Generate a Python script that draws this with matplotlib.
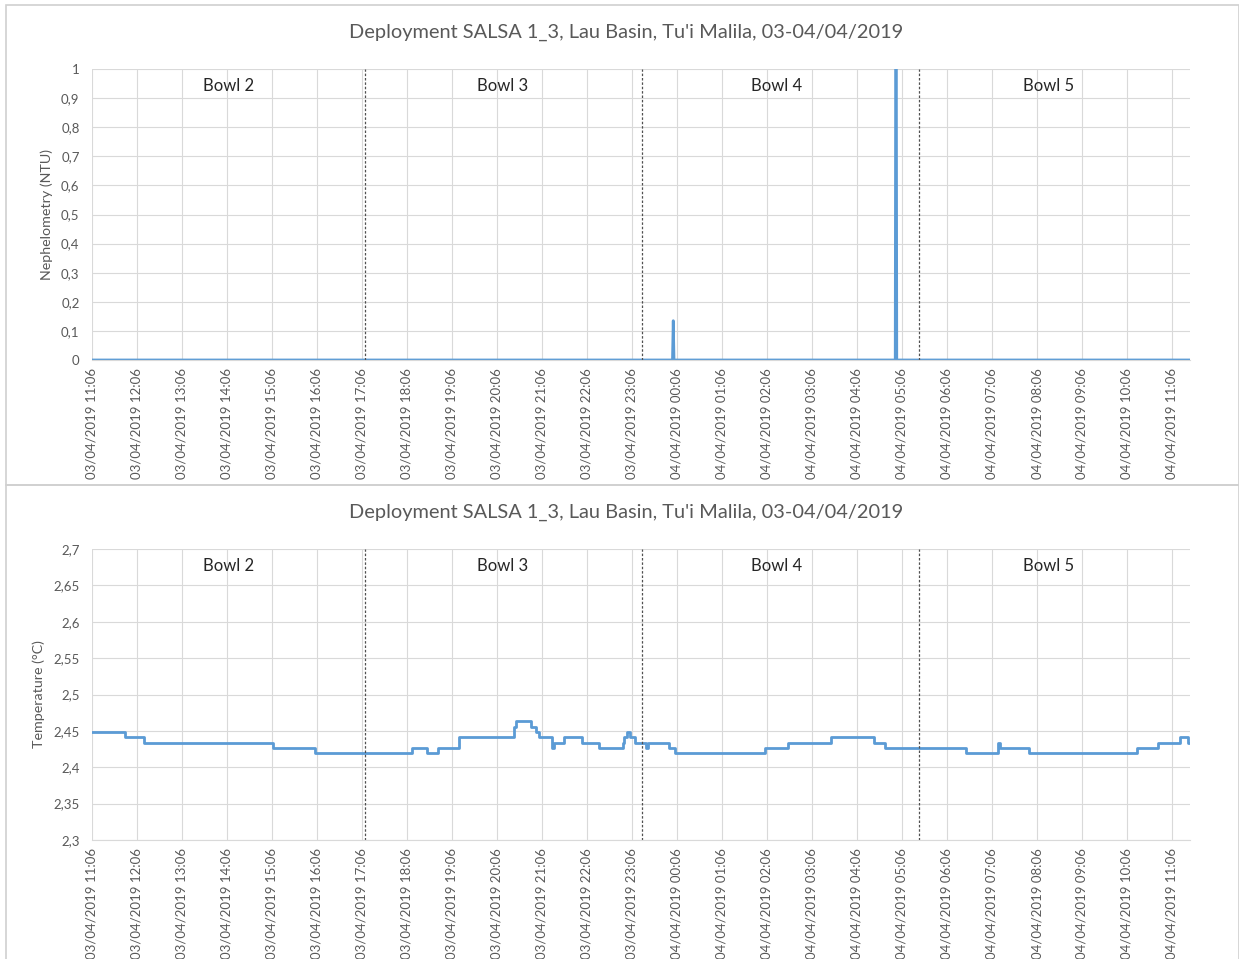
import matplotlib
matplotlib.use("Agg")
import matplotlib.pyplot as plt
import matplotlib.dates as mdates
from matplotlib.patches import Rectangle
import pandas as pd

# ---------------- data ----------------
title = "Deployment SALSA 1_3, Lau Basin, Tu'i Malila, 03-04/04/2019"
bowl_labels = ["Bowl 2", "Bowl 3", "Bowl 4", "Bowl 5"]
bowl_changes = ["2019-04-03 17:10", "2019-04-03 23:20", "2019-04-04 05:29"]
x_start = "2019-04-03 11:06"
x_end = "2019-04-04 11:30"

neph_times = ["2019-04-03 11:06", "2019-04-04 00:00", "2019-04-04 00:01",
              "2019-04-04 00:02", "2019-04-04 04:57", "2019-04-04 04:58",
              "2019-04-04 04:59", "2019-04-04 11:30"]
neph_values = [0, 0, 0.135, 0, 0, 1.8, 0, 0]

temp_times = ["2019-04-03 11:06", "2019-04-03 11:50", "2019-04-03 12:15",
              "2019-04-03 15:07", "2019-04-03 16:03", "2019-04-03 18:12",
              "2019-04-03 18:33", "2019-04-03 18:47", "2019-04-03 19:15",
              "2019-04-03 20:29", "2019-04-03 20:31", "2019-04-03 20:52",
              "2019-04-03 20:58", "2019-04-03 21:02", "2019-04-03 21:19",
              "2019-04-03 21:22", "2019-04-03 21:36", "2019-04-03 21:59",
              "2019-04-03 22:22", "2019-04-03 22:54", "2019-04-03 22:56",
              "2019-04-03 23:00", "2019-04-03 23:04", "2019-04-03 23:10",
              "2019-04-03 23:14", "2019-04-03 23:25", "2019-04-03 23:27",
              "2019-04-03 23:55", "2019-04-04 00:03", "2019-04-04 02:03",
              "2019-04-04 02:34", "2019-04-04 03:32", "2019-04-04 04:29",
              "2019-04-04 04:43", "2019-04-04 06:31", "2019-04-04 07:14",
              "2019-04-04 07:17", "2019-04-04 07:55", "2019-04-04 10:20",
              "2019-04-04 10:47", "2019-04-04 11:17", "2019-04-04 11:28",
              "2019-04-04 11:30"]
temp_values = [2.449, 2.441, 2.434,
               2.427, 2.419, 2.427,
               2.419, 2.427, 2.441,
               2.456, 2.463, 2.456,
               2.449, 2.441, 2.427,
               2.434, 2.441, 2.434,
               2.427, 2.434, 2.441,
               2.449, 2.441, 2.434,
               2.434, 2.427, 2.434,
               2.427, 2.419, 2.427,
               2.434, 2.441, 2.434,
               2.427, 2.419, 2.434,
               2.427, 2.419, 2.427,
               2.434, 2.441, 2.434,
               2.434]

neph_ticks = [0, 0.1, 0.2, 0.3, 0.4, 0.5, 0.6, 0.7, 0.8, 0.9, 1]
temp_ticks = [2.3, 2.35, 2.4, 2.45, 2.5, 2.55, 2.6, 2.65, 2.7]

# ---------------- style ----------------
FONT = ["Lato", "DejaVu Sans"]
plt.rcParams["font.family"] = FONT
GRID = "#d9d9d9"
TXT = "#595959"
BLUE = "#5b9bd5"

fig = plt.figure(figsize=(12.39, 9.59), dpi=100)
W, H = 1239, 959

# chart borders
fig.patches.append(Rectangle((6 / W, 1 - 485 / H), 1 - 6 / W, 480 / H,
                             transform=fig.transFigure, fill=False,
                             edgecolor="#d0d0d0", linewidth=1.2))
fig.patches.append(Rectangle((6 / W, -0.01), 1 - 6 / W, 1 - 485 / H + 0.01,
                             transform=fig.transFigure, fill=False,
                             edgecolor="#d0d0d0", linewidth=1.2))

x0 = pd.Timestamp(x_start)
x1 = pd.Timestamp(x_end)
hour_ticks = pd.date_range(x0, periods=25, freq="h")
bchg = pd.to_datetime(bowl_changes)
bounds = [x0] + list(bchg) + [x1]
label_shift = [0, -1, -4, -6]  # small pixel nudges of the bowl labels


def style_axes(ax, yticks, ylabel, ymin, ymax, ylabel_size):
    ax.set_xlim(x0, x1)
    ax.set_ylim(ymin, ymax)
    ax.set_yticks(yticks)
    ax.set_yticklabels([("%g" % v).replace(".", ",") for v in yticks])
    ax.set_xticks(hour_ticks)
    ax.xaxis.set_major_formatter(mdates.DateFormatter("%d/%m/%Y %H:%M"))
    for lab in ax.get_xticklabels():
        lab.set_rotation(90)
    ax.tick_params(axis="both", length=0, colors=TXT, labelsize=9.5)
    ax.tick_params(axis="x", pad=6)
    ax.tick_params(axis="y", pad=9)
    ax.grid(True, color=GRID, linewidth=0.8)
    ax.set_axisbelow(True)
    for s in ["top", "right", "left"]:
        ax.spines[s].set_visible(False)
    ax.spines["bottom"].set_color(GRID)
    ax.set_ylabel(ylabel, color=TXT, fontsize=ylabel_size, labelpad=6)
    for b in bchg:
        ax.axvline(b, color="#505050", linewidth=0.9, linestyle=(0, (2, 1.5)))
    for i, lab in enumerate(bowl_labels):
        mid = bounds[i] + (bounds[i + 1] - bounds[i]) / 2
        ax.annotate(lab, xy=(mdates.date2num(mid), 0.94),
                    xycoords=ax.get_xaxis_transform(),
                    xytext=(label_shift[i] * 0.72, 0), textcoords="offset points",
                    ha="center", va="center", fontsize=12, color="#262626")


ax1 = fig.add_axes([92 / W, 1 - 360 / H, 1098 / W, 291 / H])
ax1.plot(pd.to_datetime(neph_times), neph_values, color=BLUE, linewidth=2.0,
         clip_on=True)
style_axes(ax1, neph_ticks, "Nephelometry (NTU)", 0, 1, 10.3)
fig.text(626 / W, 1 - 32 / H, title, ha="center", va="center",
         fontsize=14.4, color=TXT)

ax2 = fig.add_axes([92 / W, 1 - 840 / H, 1098 / W, 291 / H])
ax2.plot(pd.to_datetime(temp_times), temp_values, color=BLUE, linewidth=2.0,
         drawstyle="steps-post")
style_axes(ax2, temp_ticks, "Temperature (°C)", 2.3, 2.7, 10.3)
fig.text(626 / W, 1 - 512 / H, title, ha="center", va="center",
         fontsize=14.4, color=TXT)

fig.savefig("out.png", dpi=100)
